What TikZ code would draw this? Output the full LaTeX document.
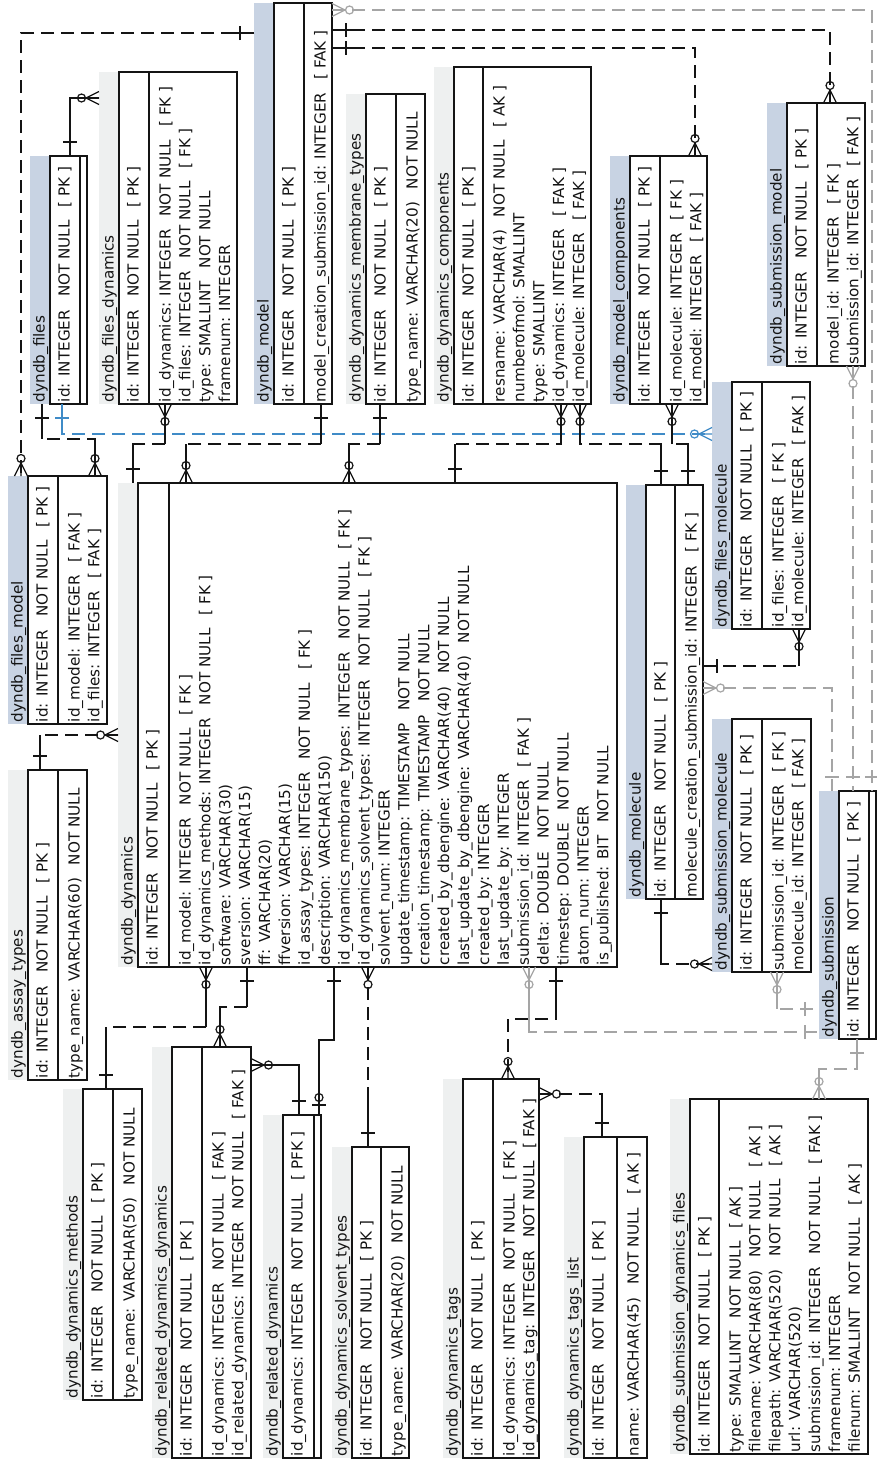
\documentclass[tikz,border=0pt]{standalone}
\usepackage{fontspec}
\setmainfont{DejaVu Sans}
\usetikzlibrary{fit}
\definecolor{tblue}{RGB}{200,211,227}
\definecolor{tgray}{RGB}{238,240,240}
\definecolor{lgray}{RGB}{165,165,165}
\definecolor{lblue}{RGB}{63,139,199}
\definecolor{ink}{RGB}{20,20,20}
\newcommand{\gp}{\hspace{0.85em}}
\newcommand{\ertable}[9]{%
  \node[fill=#3, inner sep=0pt, outer sep=0pt, fit={(#4-20,#7) (#4,#8)}] (#1-t) {};
  \node[draw=ink, line width=1.2pt, inner sep=0pt, outer sep=0pt, fit={(#4,#7) (#6,#8)}] (#1) {};
  \draw[ink, line width=1.2pt] (#5,#7) -- (#5,#8);
  \node[txt] (#1-n) at (#4-5.5,#8-2) {#2};
  \node[txt] (#1-i) at (#4+19.5,#8-2) {#9};
}
\newcommand{\erfields}[4]{%
  \foreach \ftx [count=\fk from 0] in {#4} {\node[txt] (#1-f\fk) at (#2+21.5+\fk*19.9,#3-2) {\ftx};}
}
\tikzset{
  erone/.pic={\draw[solid, line width=1.2pt] (14,-7) -- (14,7);},
  ermany/.pic={\draw[solid, line width=1.2pt] (0,-6.5) -- (13,0) -- (0,6.5) (0,0) -- (13,0);
               \draw[solid, line width=1.2pt] (17.5,0) circle[radius=4pt];},
  erzone/.pic={\draw[solid, line width=1.2pt] (10,-7) -- (10,7);
               \draw[solid, line width=1.2pt] (17.5,0) circle[radius=4pt];},
  con/.style={line width=1.2pt, ink, dash pattern=on 13pt off 7pt},
  sol/.style={line width=1.2pt, ink},
  gcon/.style={line width=1.2pt, lgray, dash pattern=on 13pt off 7pt},
  gsol/.style={line width=1.2pt, lgray},
  bcon/.style={line width=1.2pt, lblue, dash pattern=on 13pt off 7pt},
  bsol/.style={line width=1.2pt, lblue},
}
\begin{document}
\begin{tikzpicture}[x=1pt, y=-1pt,
  txt/.style={rotate=90, anchor=base west, inner sep=0pt, outer sep=0pt, text=ink, font=\fontsize{15.2}{18}\selectfont}]
\useasboundingbox (0,0) rectangle (876,1462);
\fill[white] (0,0) rectangle (876,1462);
\newcommand{\pk}{id: INTEGER\gp NOT NULL\gp [ PK ]}
% ---------------- tables
\ertable{fi}{dyndb\_files}{tblue}{50}{80}{87}{156}{404}{\pk}
\ertable{fd}{dyndb\_files\_dynamics}{tgray}{119}{149}{237}{72}{404}{\pk}
\erfields{fd}{149}{404}{{id\_dynamics: INTEGER\gp NOT NULL\gp [ FK ]},{id\_files: INTEGER\gp NOT NULL\gp [ FK ]},{type: SMALLINT\gp NOT NULL},{framenum: INTEGER}}
\ertable{mo}{dyndb\_model}{tblue}{274}{304}{332}{3}{404}{\pk}
\erfields{mo}{304}{404}{{model\_creation\_submission\_id: INTEGER\gp [ FAK ]}}
\ertable{mt}{dyndb\_dynamics\_membrane\_types}{tgray}{366}{396}{425}{94}{404}{\pk}
\erfields{mt}{396}{404}{{type\_name: VARCHAR(20)\gp NOT NULL}}
\ertable{dc}{dyndb\_dynamics\_components}{tgray}{454}{483}{591}{67}{404}{\pk}
\erfields{dc}{483}{404}{{resname: VARCHAR(4)\gp NOT NULL\gp [ AK ]},{numberofmol: SMALLINT},{type: SMALLINT},{id\_dynamics: INTEGER\gp [ FAK ]},{id\_molecule: INTEGER\gp [ FAK ]}}
\ertable{mc}{dyndb\_model\_components}{tblue}{630}{660}{707}{156}{404}{\pk}
\erfields{mc}{660}{404}{{id\_molecule: INTEGER\gp [ FK ]},{id\_model: INTEGER\gp [ FAK ]}}
\ertable{sm}{dyndb\_submission\_model}{tblue}{787}{817}{865}{103}{366}{\pk}
\erfields{sm}{817}{366}{{model\_id: INTEGER\gp [ FK ]},{submission\_id: INTEGER\gp [ FAK ]}}
\ertable{fm}{dyndb\_files\_molecule}{tblue}{732}{762}{810}{382}{629}{\pk}
\erfields{fm}{762}{629}{{id\_files: INTEGER\gp [ FK ]},{id\_molecule: INTEGER\gp [ FAK ]}}
\ertable{fmo}{dyndb\_files\_model}{tblue}{28}{58}{107}{476}{724}{\pk}
\erfields{fmo}{58}{724}{{id\_model: INTEGER\gp [ FAK ]},{id\_files: INTEGER\gp [ FAK ]}}
\ertable{dy}{dyndb\_dynamics}{tgray}{138}{169}{617}{483}{967}{\pk}
\erfields{dy}{169}{967}{{id\_model: INTEGER\gp NOT NULL\gp [ FK ]},{id\_dynamics\_methods: INTEGER\gp NOT NULL\gp [ FK ]},{software: VARCHAR(30)},{sversion: VARCHAR(15)},{ff: VARCHAR(20)},{ffversion: VARCHAR(15)},{id\_assay\_types: INTEGER\gp NOT NULL\gp [ FK ]},{description: VARCHAR(150)},{id\_dynamics\_membrane\_types: INTEGER\gp NOT NULL\gp [ FK ]},{id\_dynamics\_solvent\_types: INTEGER\gp NOT NULL\gp [ FK ]},{solvent\_num: INTEGER},{update\_timestamp: TIMESTAMP\gp NOT NULL},{creation\_timestamp: TIMESTAMP\gp NOT NULL},{created\_by\_dbengine: VARCHAR(40)\gp NOT NULL},{last\_update\_by\_dbengine: VARCHAR(40)\gp NOT NULL},{created\_by: INTEGER},{last\_update\_by: INTEGER},{submission\_id: INTEGER\gp [ FAK ]},{delta: DOUBLE\gp NOT NULL},{timestep: DOUBLE\gp NOT NULL},{atom\_num: INTEGER},{is\_published: BIT\gp NOT NULL}}
\ertable{ml}{dyndb\_molecule}{tblue}{646}{675}{703}{485}{899}{\pk}
\erfields{ml}{675}{899}{{molecule\_creation\_submission\_id: INTEGER\gp [ FK ]}}
\ertable{smo}{dyndb\_submission\_molecule}{tblue}{732}{762}{811}{719}{972}{\pk}
\erfields{smo}{762}{972}{{submission\_id: INTEGER\gp [ FK ]},{molecule\_id: INTEGER\gp [ FAK ]}}
\ertable{su}{dyndb\_submission}{tblue}{839}{869}{876}{791}{1039}{\pk}
\ertable{at}{dyndb\_assay\_types}{tgray}{28}{58}{87}{770}{1080}{\pk}
\erfields{at}{58}{1080}{{type\_name: VARCHAR(60)\gp NOT NULL}}
\ertable{me}{dyndb\_dynamics\_methods}{tgray}{83}{113}{142}{1089}{1400}{\pk}
\erfields{me}{113}{1400}{{type\_name: VARCHAR(50)\gp NOT NULL}}
\ertable{rdd}{dyndb\_related\_dynamics\_dynamics}{tgray}{172}{202}{251}{1047}{1458}{\pk}
\erfields{rdd}{202}{1458}{{id\_dynamics: INTEGER\gp NOT NULL\gp [ FAK ]},{id\_related\_dynamics: INTEGER\gp NOT NULL\gp [ FAK ]}}
\ertable{rd}{dyndb\_related\_dynamics}{tgray}{283}{314}{321}{1115}{1458}{id\_dynamics: INTEGER\gp NOT NULL\gp [ PFK ]}
\ertable{st}{dyndb\_dynamics\_solvent\_types}{tgray}{352}{381}{409}{1147}{1458}{\pk}
\erfields{st}{381}{1458}{{type\_name: VARCHAR(20)\gp NOT NULL}}
\ertable{tgs}{dyndb\_dynamics\_tags}{tgray}{463}{493}{539}{1079}{1458}{\pk}
\erfields{tgs}{493}{1458}{{id\_dynamics: INTEGER\gp NOT NULL\gp [ FK ]},{id\_dynamics\_tag: INTEGER\gp NOT NULL\gp [ FAK ]}}
\ertable{tl}{dyndb\_dynamics\_tags\_list}{tgray}{584}{617}{647}{1137}{1458}{\pk}
\erfields{tl}{617}{1458}{{name: VARCHAR(45)\gp NOT NULL\gp [ AK ]}}
\ertable{sdf}{dyndb\_submission\_dynamics\_files}{tgray}{690}{719}{868}{1099}{1454}{\pk}
\erfields{sdf}{719}{1454}{{type: SMALLINT\gp NOT NULL\gp [ AK ]},{filename: VARCHAR(80)\gp NOT NULL\gp [ AK ]},{filepath: VARCHAR(520)\gp NOT NULL\gp [ AK ]},{url: VARCHAR(520)},{submission\_id: INTEGER\gp NOT NULL\gp [ FAK ]},{framenum: INTEGER},{filenum: SMALLINT\gp NOT NULL\gp [ AK ]}}
% ---------------- connectors
% files -> files_dynamics
\draw[sol] (70,0 |- fi.north) -- (70,98) -- (fd-t.west |- 0,98);
\pic[ink, rotate=90] at (70,0 |- fi.north) {erone};
\pic[ink, rotate=180] at (fd-t.west |- 0,98) {ermany};
% model -> files_model
\draw[con] (mo-t.west |- 0,33) -- (21,33) -- (21,0 |- fmo-t.north);
\draw[sol] (mo-t.west |- 0,33) -- ++(-26,0);
\pic[ink, rotate=180] at (mo-t.west |- 0,33) {erone};
\pic[ink, rotate=90] at (21,0 |- fmo-t.north) {ermany};
% files -> files_model
\draw[con] (42,0 |- fi-t.south) -- (42,439) -- (95,439) -- (95,0 |- fmo.north);
\draw[sol] (42,0 |- fi-t.south) -- (42,439);
\draw[sol] (95,439) -- (95,0 |- fmo.north);
\pic[ink, rotate=-90] at (42,0 |- fi-t.south) {erone};
\pic[ink, rotate=90] at (95,0 |- fmo.north) {ermany};
% files -> files_molecule (blue)
\draw[bcon] (62,0 |- fi.south) -- (62,434) -- (fm-t.west |- 0,434);
\draw[bsol] (62,0 |- fi.south) -- (62,434);
\pic[lblue, rotate=-90] at (62,0 |- fi.south) {erone};
\pic[lblue, rotate=180] at (fm-t.west |- 0,434) {ermany};
% dynamics -> files_dynamics
\draw[con] (165,0 |- fd.south) -- (165,444) -- (133,444) -- (133,0 |- dy-t.north);
\draw[sol] (165,0 |- fd.south) -- (165,444);
\draw[sol] (133,444) -- (133,0 |- dy-t.north);
\pic[ink, rotate=-90] at (165,0 |- fd.south) {ermany};
\pic[ink, rotate=90] at (133,0 |- dy-t.north) {erone};
% model -> dynamics
\draw[con] (321,0 |- mo.south) -- (321,444) -- (186,444) -- (186,0 |- dy.north);
\draw[sol] (321,0 |- mo.south) -- (321,444);
\draw[sol] (186,444) -- (186,0 |- dy.north);
\pic[ink, rotate=-90] at (321,0 |- mo.south) {erone};
\pic[ink, rotate=90] at (186,0 |- dy.north) {ermany};
% membrane types -> dynamics
\draw[con] (380,0 |- mt.south) -- (380,444) -- (349,444) -- (349,0 |- dy.north);
\draw[sol] (380,0 |- mt.south) -- (380,444);
\draw[sol] (349,444) -- (349,0 |- dy.north);
\pic[ink, rotate=-90] at (380,0 |- mt.south) {erone};
\pic[ink, rotate=90] at (349,0 |- dy.north) {ermany};
% dynamics -> components
\draw[con] (455,0 |- dy.north) -- (455,444) -- (561,444) -- (561,0 |- dc.south);
\draw[sol] (455,0 |- dy.north) -- (455,444);
\draw[sol] (561,444) -- (561,0 |- dc.south);
\pic[ink, rotate=90] at (455,0 |- dy.north) {erone};
\pic[ink, rotate=-90] at (561,0 |- dc.south) {ermany};
% molecule -> components
\draw[con] (661,0 |- ml.north) -- (661,444) -- (580,444) -- (580,0 |- dc.south);
\draw[sol] (661,0 |- ml.north) -- (661,444);
\draw[sol] (580,444) -- (580,0 |- dc.south);
\pic[ink, rotate=90] at (661,0 |- ml.north) {erone};
\pic[ink, rotate=-90] at (580,0 |- dc.south) {ermany};
% molecule -> model_components
\draw[con] (688,0 |- ml.north) -- (688,444) -- (672,444) -- (672,0 |- mc.south);
\draw[sol] (688,0 |- ml.north) -- (688,444);
\draw[sol] (672,444) -- (672,0 |- mc.south);
\pic[ink, rotate=90] at (688,0 |- ml.north) {erone};
\pic[ink, rotate=-90] at (672,0 |- mc.south) {ermany};
% model -> model_components
\draw[con] (mo.east |- 0,48) -- (695,48) -- (695,0 |- mc.north);
\draw[sol] (mo.east |- 0,48) -- ++(24,0);
\pic[ink, rotate=0] at (mo.east |- 0,48) {erone};
\pic[ink, rotate=90] at (695,0 |- mc.north) {ermany};
% model -> submission_model
\draw[con] (mo.east |- 0,30) -- (830,30) -- (830,0 |- sm.north);
\draw[sol] (mo.east |- 0,30) -- ++(24,0);
\pic[ink, rotate=0] at (mo.east |- 0,30) {erone};
\pic[ink, rotate=90] at (830,0 |- sm.north) {ermany};
% submission -> model (gray)
\draw[gcon] (mo.east |- 0,10) -- (872,10) -- (872,0 |- su.north);
\pic[lgray, rotate=0] at (mo.east |- 0,10) {ermany};
\pic[lgray, rotate=90] at (872,0 |- su.north) {erone};
% submission -> submission_model (gray)
\draw[gcon] (853,0 |- sm.south) -- (853,0 |- su.north);
\pic[lgray, rotate=-90] at (853,0 |- sm.south) {ermany};
\pic[lgray, rotate=90] at (853,0 |- su.north) {erone};
% molecule -> files_molecule
\draw[con] (ml.east |- 0,666) -- (799,666) -- (799,0 |- fm.south);
\draw[sol] (799,666) -- (799,0 |- fm.south);
\pic[ink, rotate=0] at (ml.east |- 0,666) {erone};
\pic[ink, rotate=-90] at (799,0 |- fm.south) {ermany};
% submission -> molecule (gray)
\draw[gcon] (ml.east |- 0,688) -- (832,688) -- (832,0 |- su-t.north);
\pic[lgray, rotate=0] at (ml.east |- 0,688) {ermany};
\pic[lgray, rotate=90] at (832,0 |- su-t.north) {erone};
% molecule -> submission_molecule
\draw[con] (661,0 |- ml.south) -- (661,964) -- (smo-t.west |- 0,964);
\draw[sol] (661,0 |- ml.south) -- (661,964);
\pic[ink, rotate=-90] at (661,0 |- ml.south) {erone};
\pic[ink, rotate=180] at (smo-t.west |- 0,964) {ermany};
% submission -> submission_molecule (gray)
\draw[gcon] (777,0 |- smo.south) -- (777,1009) -- (su-t.west |- 0,1009);
\draw[gsol] (777,0 |- smo.south) -- (777,1009);
\pic[lgray, rotate=-90] at (777,0 |- smo.south) {ermany};
\pic[lgray, rotate=180] at (su-t.west |- 0,1009) {erone};
% submission -> dynamics (gray)
\draw[gcon] (529,0 |- dy.south) -- (529,1032) -- (su-t.west |- 0,1032);
\draw[gsol] (529,0 |- dy.south) -- (529,1032);
\pic[lgray, rotate=-90] at (529,0 |- dy.south) {ermany};
\pic[lgray, rotate=180] at (su-t.west |- 0,1032) {erone};
% submission -> submission_dynamics_files (gray)
\draw[gcon] (857,0 |- su.south) -- (857,1069) -- (819,1069) -- (819,0 |- sdf.north);
\draw[gsol] (857,0 |- su.south) -- (857,1069);
\draw[gsol] (819,1069) -- (819,0 |- sdf.north);
\pic[lgray, rotate=-90] at (857,0 |- su.south) {erone};
\pic[lgray, rotate=90] at (819,0 |- sdf.north) {ermany};
% assay types -> dynamics
\draw[con] (40,0 |- at.north) -- (40,735) -- (dy-t.west |- 0,735);
\draw[sol] (40,0 |- at.north) -- (40,735);
\pic[ink, rotate=90] at (40,0 |- at.north) {erone};
\pic[ink, rotate=180] at (dy-t.west |- 0,735) {ermany};
% methods -> dynamics
\draw[con] (206,0 |- dy.south) -- (206,1027) -- (106,1027) -- (106,0 |- me.north);
\draw[sol] (206,0 |- dy.south) -- (206,1027);
\draw[sol] (106,1027) -- (106,0 |- me.north);
\pic[ink, rotate=-90] at (206,0 |- dy.south) {ermany};
\pic[ink, rotate=90] at (106,0 |- me.north) {erone};
% dynamics -> related_dynamics_dynamics
\draw[con] (247,0 |- dy.south) -- (247,1007) -- (220,1007) -- (220,0 |- rdd.north);
\draw[sol] (247,0 |- dy.south) -- (247,1007);
\draw[sol] (220,1007) -- (220,0 |- rdd.north);
\pic[ink, rotate=-90] at (247,0 |- dy.south) {erone};
\pic[ink, rotate=90] at (220,0 |- rdd.north) {ermany};
% related_dynamics -> related_dynamics_dynamics
\draw[sol] (rdd.east |- 0,1065) -- (299,1065) -- (299,0 |- rd.north);
\pic[ink, rotate=0] at (rdd.east |- 0,1065) {ermany};
\pic[ink, rotate=90] at (299,0 |- rd.north) {erone};
% dynamics -> related_dynamics
\draw[sol] (334,0 |- dy.south) -- (334,1040) -- (319,1040) -- (319,0 |- rd.north);
\pic[ink, rotate=-90] at (334,0 |- dy.south) {erone};
\pic[ink, rotate=90] at (319,0 |- rd.north) {erzone};
% solvent types -> dynamics
\draw[con] (368,0 |- dy.south) -- (368,0 |- st.north);
\draw[sol] (368,1099) -- (368,0 |- st.north);
\pic[ink, rotate=-90] at (368,0 |- dy.south) {ermany};
\pic[ink, rotate=90] at (368,0 |- st.north) {erone};
% dynamics -> tags
\draw[con] (556,0 |- dy.south) -- (556,1019) -- (508,1019) -- (508,0 |- tgs.north);
\draw[sol] (556,0 |- dy.south) -- (556,1019);
\pic[ink, rotate=-90] at (556,0 |- dy.south) {erone};
\pic[ink, rotate=90] at (508,0 |- tgs.north) {ermany};
% tags_list -> tags
\draw[con] (tgs.east |- 0,1094) -- (602,1094) -- (602,0 |- tl.north);
\draw[sol] (602,1094) -- (602,0 |- tl.north);
\pic[ink, rotate=0] at (tgs.east |- 0,1094) {ermany};
\pic[ink, rotate=90] at (602,0 |- tl.north) {erone};
\end{tikzpicture}
\end{document}
